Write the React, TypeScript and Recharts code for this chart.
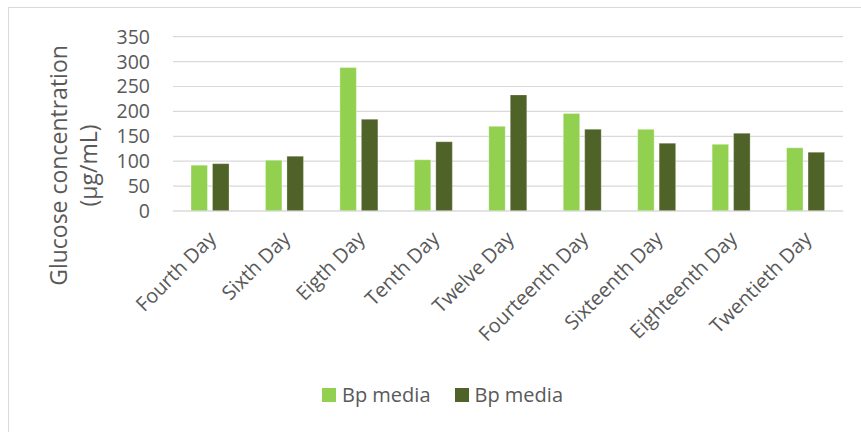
import React from 'react';
import { BarChart, Bar, XAxis, YAxis, CartesianGrid, Legend } from 'recharts';

const categories = ['Fourth Day', 'Sixth Day', 'Eigth Day', 'Tenth Day', 'Twelve Day', 'Fourteenth Day', 'Sixteenth Day', 'Eighteenth Day', 'Twentieth Day'];
const seriesLight = [92, 102, 288, 103, 170, 196, 164, 134, 127];
const seriesDark = [95, 110, 184, 139, 233, 164, 136, 156, 118];
const yTicks = [0, 50, 100, 150, 200, 250, 300, 350];
const seriesName = 'Bp media';
const yLabelLines = ['Glucose concentration', '(µg/mL)'];

const data = categories.map((c, i) => ({ name: c, light: seriesLight[i], dark: seriesDark[i] }));

const FONT = '"Open Sans", sans-serif';
const TEXT = '#595959';

const XTick = (props: any) => {
  const { x, payload } = props;
  const ax = x + 7;
  const ay = 240;
  return (
    <text x={ax} y={ay} textAnchor="end" transform={`rotate(-45, ${ax}, ${ay})`} fill={TEXT} fontSize={20} fontFamily={FONT}>
      {payload.value}
    </text>
  );
};

const YLabel = () => (
  <g>
    <text x={-165.5} y={66.7} transform="rotate(-90)" textAnchor="middle" fill={TEXT} fontSize={23} fontFamily={FONT}>
      {yLabelLines[0]}
    </text>
    <text x={-165.5} y={97.2} transform="rotate(-90)" textAnchor="middle" fill={TEXT} fontSize={23} fontFamily={FONT}>
      {yLabelLines[1]}
    </text>
  </g>
);

const LegendContent = (props: any) => {
  const { payload } = props;
  return (
    <div style={{ display: 'flex', alignItems: 'center', height: 30, fontFamily: FONT, fontSize: 20, color: TEXT }}>
      {(payload || []).map((p: any, i: number) => (
        <div key={i} style={{ display: 'flex', alignItems: 'center', marginRight: 24 }}>
          <div style={{ width: 14, height: 14, background: p.color, marginRight: 6 }} />
          <span style={{ lineHeight: '30px', whiteSpace: 'nowrap' }}>{p.value}</span>
        </div>
      ))}
    </div>
  );
};

export default function App() {
  return (
    <div style={{ position: 'absolute', left: 0, top: 0, width: 861, height: 432, background: '#fff', overflow: 'hidden' }}>
      <div style={{ position: 'absolute', left: 8, top: 7, width: 900, height: 500, border: '1px solid #D9D9D9', boxSizing: 'border-box' }} />
      <div style={{ position: 'absolute', left: 0, top: 0 }}>
        <BarChart
          width={861}
          height={432}
          data={data}
          margin={{ top: 36.7, right: 18, left: 0, bottom: 0 }}
          barGap={5}
          barSize={16.5}
        >
          <CartesianGrid vertical={false} stroke="#D9D9D9" strokeWidth={1.2} />
          <XAxis
            dataKey="name"
            interval={0}
            height={191}
            tick={<XTick />}
            tickLine={false}
            axisLine={{ stroke: '#D9D9D9', strokeWidth: 1.2 }}
          />
          <YAxis
            width={173}
            domain={[0, 350]}
            ticks={yTicks}
            interval={0}
            tickLine={false}
            axisLine={false}
            tickSize={0}
            tickMargin={23}
            tick={{ fill: TEXT, fontSize: 19.5, fontFamily: FONT }}
            label={<YLabel />}
          />
          <Legend
            verticalAlign="bottom"
            align="left"
            content={<LegendContent />}
            wrapperStyle={{ left: 322, top: 380, width: 400, height: 30 }}
          />
          <Bar dataKey="light" name={seriesName} fill="#92D050" stroke="#ffffff" strokeOpacity={0.35} isAnimationActive={false} />
          <Bar dataKey="dark" name={seriesName} fill="#4F6228" stroke="#ffffff" strokeOpacity={0.25} isAnimationActive={false} />
        </BarChart>
      </div>
    </div>
  );
}
